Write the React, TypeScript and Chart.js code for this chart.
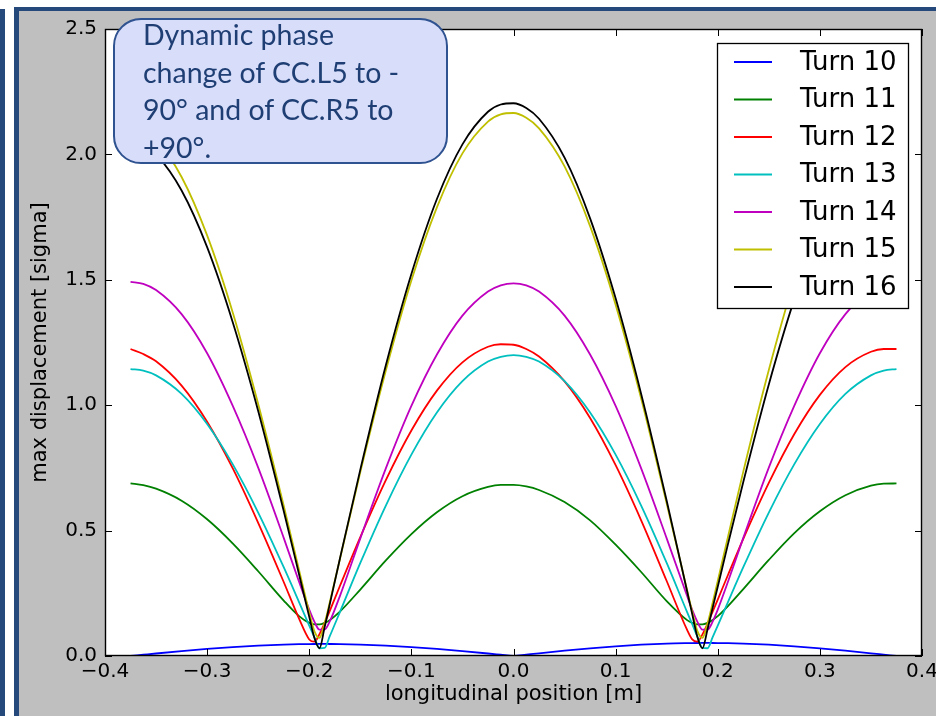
import React, { useEffect, useRef } from "react";
import { Chart, registerables } from "chart.js";

Chart.register(...registerables);

// longitudinal position [m]
const positions = [
  -0.375, -0.3625, -0.35, -0.325, -0.3, -0.275, -0.25, -0.225, -0.21, -0.2, -0.195, -0.19, -0.185, -0.18, -0.17, -0.15, -0.125, -0.1, -0.075, -0.05, -0.025, -0.0125, 0,
  0.0125, 0.025, 0.05, 0.075, 0.1, 0.125, 0.15, 0.17, 0.175, 0.18, 0.185, 0.19, 0.195, 0.2, 0.21, 0.225, 0.25, 0.275, 0.3, 0.325, 0.35, 0.3625, 0.375,
];

const turn10 = [
  0, 0.005, 0.01, 0.0195, 0.0282, 0.0357, 0.0416, 0.0457, 0.0472, 0.0477, 0.0479, 0.048, 0.048, 0.0479, 0.0475, 0.0457, 0.0416, 0.0357, 0.0282, 0.0195, 0.01, 0.005, 0,
  0.0054, 0.0108, 0.0211, 0.0306, 0.0386, 0.045, 0.0495, 0.0514, 0.0517, 0.0519, 0.052, 0.052, 0.0519, 0.0517, 0.0511, 0.0495, 0.045, 0.0386, 0.0306, 0.0211, 0.0108, 0.0054, 0,
];
const turn11 = [
  0.688, 0.681, 0.667, 0.619, 0.545, 0.449, 0.338, 0.221, 0.159, 0.132, 0.126, 0.126, 0.132, 0.143, 0.177, 0.265, 0.381, 0.486, 0.573, 0.637, 0.674, 0.682, 0.682,
  0.676, 0.662, 0.614, 0.541, 0.444, 0.335, 0.219, 0.143, 0.132, 0.126, 0.126, 0.132, 0.144, 0.159, 0.199, 0.267, 0.383, 0.49, 0.577, 0.641, 0.679, 0.687, 0.688,
];
const turn12 = [
  1.224, 1.204, 1.175, 1.078, 0.934, 0.749, 0.531, 0.295, 0.149, 0.066, 0.057, 0.087, 0.131, 0.179, 0.279, 0.474, 0.701, 0.899, 1.058, 1.171, 1.233, 1.243, 1.241,
  1.224, 1.194, 1.095, 0.949, 0.761, 0.541, 0.299, 0.104, 0.066, 0.057, 0.086, 0.129, 0.177, 0.225, 0.323, 0.467, 0.69, 0.885, 1.041, 1.152, 1.213, 1.224, 1.224,
];
const turn13 = [
  1.144, 1.138, 1.119, 1.045, 0.925, 0.765, 0.572, 0.354, 0.215, 0.121, 0.075, 0.031, 0.032, 0.078, 0.175, 0.371, 0.6, 0.803, 0.971, 1.096, 1.174, 1.193, 1.2,
  1.193, 1.174, 1.096, 0.971, 0.803, 0.6, 0.371, 0.175, 0.127, 0.078, 0.032, 0.031, 0.075, 0.121, 0.215, 0.354, 0.572, 0.765, 0.925, 1.045, 1.119, 1.138, 1.144,
];
const turn14 = [
  1.492, 1.484, 1.459, 1.363, 1.207, 0.998, 0.751, 0.471, 0.296, 0.185, 0.137, 0.105, 0.105, 0.137, 0.239, 0.469, 0.748, 0.997, 1.202, 1.357, 1.453, 1.478, 1.486,
  1.478, 1.453, 1.357, 1.202, 0.997, 0.748, 0.469, 0.239, 0.184, 0.137, 0.105, 0.105, 0.137, 0.185, 0.296, 0.471, 0.751, 0.998, 1.207, 1.363, 1.459, 1.484, 1.492,
];
const turn15 = [
  2.12, 2.101, 2.06, 1.91, 1.677, 1.371, 1.005, 0.599, 0.343, 0.174, 0.099, 0.072, 0.13, 0.212, 0.386, 0.733, 1.138, 1.497, 1.789, 2.004, 2.131, 2.16, 2.165,
  2.146, 2.104, 1.952, 1.714, 1.401, 1.027, 0.608, 0.262, 0.177, 0.1, 0.072, 0.13, 0.212, 0.299, 0.475, 0.735, 1.14, 1.499, 1.793, 2.008, 2.135, 2.164, 2.17,
];
const turn16 = [
  2.06, 2.041, 2.001, 1.856, 1.63, 1.332, 0.977, 0.578, 0.326, 0.156, 0.073, 0.031, 0.114, 0.205, 0.388, 0.743, 1.159, 1.523, 1.822, 2.04, 2.17, 2.199, 2.204,
  2.185, 2.142, 1.987, 1.745, 1.426, 1.045, 0.619, 0.258, 0.167, 0.077, 0.031, 0.107, 0.192, 0.276, 0.446, 0.694, 1.083, 1.423, 1.702, 1.906, 2.027, 2.054, 2.06,
];

const seriesValues = [turn10, turn11, turn12, turn13, turn14, turn15, turn16];
const seriesLabels = ["Turn 10", "Turn 11", "Turn 12", "Turn 13", "Turn 14", "Turn 15", "Turn 16"];
const seriesColors = ["#0000ff", "#008000", "#ff0000", "#00bfbf", "#bf00bf", "#bfbf00", "#000000"];

const xTickLabels = ["\u22120.4", "\u22120.3", "\u22120.2", "\u22120.1", "0.0", "0.1", "0.2", "0.3", "0.4"];
const yTickLabels = ["0.0", "0.5", "1.0", "1.5", "2.0", "2.5"];

const xTitle = "longitudinal position [m]";
const yTitle = "max displacement [sigma]";
const noteLines = ["Dynamic phase", "change of CC.L5 to -", "90\u00b0 and of CC.R5 to", "+90\u00b0."];

const FONT = "'DejaVu Sans', sans-serif";
const BLUE = "#25497a";

const framePlugin = {
  id: "mplFrame",
  beforeDraw(chart: any) {
    const { ctx, chartArea: a } = chart;
    ctx.save();
    ctx.fillStyle = "#ffffff";
    ctx.fillRect(a.left, a.top, a.right - a.left, a.bottom - a.top);
    ctx.restore();
  },
  afterDatasetsDraw(chart: any) {
    const { ctx, chartArea: a } = chart;
    // legend box (inside the axes, upper right)
    const right = a.right - 14;
    const left = right - 191;
    const top = a.top + 14;
    const rowH = 37.5;
    const n = chart.data.datasets.length;
    const height = 265;
    ctx.save();
    ctx.fillStyle = "#ffffff";
    ctx.fillRect(left, top, right - left, height);
    ctx.strokeStyle = "#000000";
    ctx.lineWidth = 1.3;
    ctx.strokeRect(left + 0.5, top + 0.5, right - left, height);
    ctx.font = `26px ${FONT}`;
    ctx.textBaseline = "middle";
    ctx.textAlign = "left";
    for (let i = 0; i < n; i++) {
      const ds = chart.data.datasets[i];
      const cy = top + 19 + i * rowH;
      ctx.strokeStyle = ds.borderColor;
      ctx.lineWidth = 1.8;
      ctx.beginPath();
      ctx.moveTo(left + 17, cy);
      ctx.lineTo(left + 55, cy);
      ctx.stroke();
      ctx.fillStyle = "#000000";
      ctx.fillText(ds.label, left + 83, cy + 1);
    }
    ctx.restore();
  },
  afterDraw(chart: any) {
    const { ctx, chartArea: a, scales } = chart;
    const x = scales.x;
    const y = scales.y;
    const L = 7;
    ctx.save();
    ctx.strokeStyle = "#000000";
    ctx.lineWidth = 1;
    ctx.beginPath();
    x.ticks.forEach((t: any) => {
      const px = Math.round(x.getPixelForValue(t.value)) + 0.5;
      ctx.moveTo(px, a.bottom);
      ctx.lineTo(px, a.bottom - L);
      ctx.moveTo(px, a.top);
      ctx.lineTo(px, a.top + L);
    });
    y.ticks.forEach((t: any) => {
      const py = Math.round(y.getPixelForValue(t.value)) + 0.5;
      ctx.moveTo(a.left, py);
      ctx.lineTo(a.left + L, py);
      ctx.moveTo(a.right, py);
      ctx.lineTo(a.right - L, py);
    });
    ctx.stroke();
    ctx.lineWidth = 1.4;
    ctx.strokeRect(a.left + 0.5, a.top + 0.5, a.right - a.left - 1, a.bottom - a.top - 1);
    ctx.restore();
  },
};

export default function App() {
  const canvasRef = useRef<HTMLCanvasElement | null>(null);

  useEffect(() => {
    const canvas = canvasRef.current;
    if (!canvas) return;
    const datasets = seriesValues.map((vals, i) => ({
      label: seriesLabels[i],
      data: positions.map((p, j) => ({ x: p, y: vals[j] })),
      borderColor: seriesColors[i],
      backgroundColor: seriesColors[i],
      borderWidth: 1.8,
      pointRadius: 0,
      fill: false,
      cubicInterpolationMode: "monotone" as const,
      order: seriesValues.length - 1 - i,
    }));
    const chart = new Chart(canvas, {
      type: "line",
      data: { datasets },
      plugins: [framePlugin],
      options: {
        animation: false,
        responsive: false,
        devicePixelRatio: 1,
        events: [],
        layout: { padding: { left: 0, top: 29, right: 14, bottom: 0 } },
        plugins: { legend: { display: false }, tooltip: { enabled: false }, title: { display: false } },
        scales: {
          x: {
            type: "linear",
            min: -0.4,
            max: 0.4,
            grid: { display: false, drawTicks: false },
            border: { display: false },
            ticks: {
              stepSize: 0.1,
              padding: 4,
              maxRotation: 0,
              autoSkip: false,
              color: "#000000",
              font: { family: FONT, size: 20 },
              callback: (_v: any, i: number) => xTickLabels[i],
            },
            title: {
              display: true,
              text: xTitle,
              color: "#000000",
              font: { family: FONT, size: 21 },
              padding: { top: 0, bottom: 9 },
            },
            afterFit: (s: any) => {
              s.height = 60;
              s.paddingLeft = 0;
              s.paddingRight = 0;
            },
          },
          y: {
            type: "linear",
            min: 0,
            max: 2.5,
            grid: { display: false, drawTicks: false },
            border: { display: false },
            ticks: {
              stepSize: 0.5,
              padding: 8,
              color: "#000000",
              font: { family: FONT, size: 20 },
              callback: (_v: any, i: number) => yTickLabels[i],
            },
            title: {
              display: true,
              text: yTitle,
              color: "#000000",
              font: { family: FONT, size: 21 },
              padding: { top: 28, bottom: 0 },
            },
            afterFit: (s: any) => {
              s.width = 105;
              s.paddingTop = 0;
              s.paddingBottom = 0;
            },
          },
        },
      },
    });
    return () => chart.destroy();
  }, []);

  return (
    <div style={{ position: "absolute", left: 0, top: 0, width: 936, height: 716, background: "#ffffff", overflow: "hidden" }}>
      <div style={{ position: "absolute", left: 0, top: 9, width: 5, height: 707, background: BLUE }} />
      <div style={{ position: "absolute", left: 14, top: 7, width: 922, height: 4, background: BLUE }} />
      <div style={{ position: "absolute", left: 14, top: 7, width: 5, height: 709, background: BLUE }} />
      <div style={{ position: "absolute", left: 19, top: 11, width: 917, height: 705, background: "#bfbfbf" }} />
      <canvas
        ref={canvasRef}
        width={936}
        height={716}
        style={{ position: "absolute", left: 0, top: 0, width: 936, height: 716 }}
      />
      <div
        style={{
          position: "absolute",
          left: 113,
          top: 18,
          width: 335,
          height: 146,
          boxSizing: "border-box",
          border: "2px solid #2f5290",
          borderRadius: 28,
          background: "#d8ddfa",
        }}
      />
      <div
        style={{
          position: "absolute",
          left: 143,
          top: 16.2,
          fontFamily: "Lato, 'Noto Sans', sans-serif",
          fontSize: 28.5,
          lineHeight: "37.5px",
          color: "#1f3f74",
          whiteSpace: "nowrap",
        }}
      >
        {noteLines.map((l, i) => (
          <div key={i}>{l}</div>
        ))}
      </div>
    </div>
  );
}
